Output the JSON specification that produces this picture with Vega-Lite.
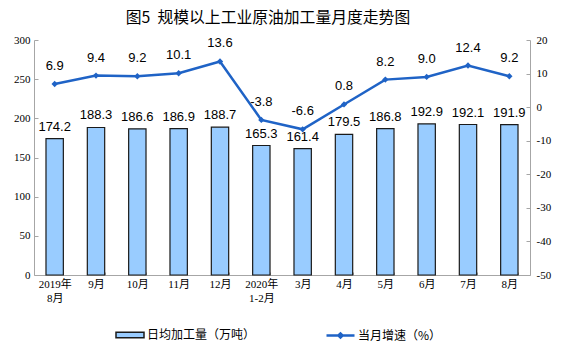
{
  "$schema": "https://vega.github.io/schema/vega-lite/v6.json",
  "autosize": {"type": "none"},
  "width": 496,
  "height": 235,
  "padding": {"left": 34, "top": 40, "right": 32, "bottom": 87},
  "title": {
    "text": "图5\u00a0\u00a0规模以上工业原油加工量月度走势图",
    "font": "Noto Sans CJK SC",
    "fontSize": 15.8,
    "fontWeight": "normal",
    "color": "#000000",
    "anchor": "middle",
    "dx": -14,
    "offset": 7
  },
  "config": {
    "view": {"stroke": null},
    "axis": {"grid": false},
    "locale": {"number": {"decimal": ".", "thousands": ",", "grouping": [3], "currency": ["", ""], "minus": "-"}}
  },
  "data": {
    "values": [
      {"m": "2019年 8月", "v": 174.2, "g": 6.9},
      {"m": "9月", "v": 188.3, "g": 9.4},
      {"m": "10月", "v": 186.6, "g": 9.2},
      {"m": "11月", "v": 186.9, "g": 10.1},
      {"m": "12月", "v": 188.7, "g": 13.6},
      {"m": "2020年 1-2月", "v": 165.3, "g": -3.8},
      {"m": "3月", "v": 161.4, "g": -6.6},
      {"m": "4月", "v": 179.5, "g": 0.8},
      {"m": "5月", "v": 186.8, "g": 8.2},
      {"m": "6月", "v": 192.9, "g": 9.0},
      {"m": "7月", "v": 192.1, "g": 12.4},
      {"m": "8月", "v": 191.9, "g": 9.2}
    ]
  },
  "encoding": {
    "x": {
      "field": "m",
      "type": "ordinal",
      "sort": null,
      "scale": {"paddingInner": 0.58, "paddingOuter": 0.29},
      "axis": {
        "title": null,
        "labelAngle": 0,
        "labelExpr": "isValid(datum.value) ? split(datum.value, ' ') : ''",
        "labelFont": "Liberation Serif, Noto Sans CJK SC",
        "labelFontSize": 11,
        "labelColor": "#000000",
        "labelPadding": 6,
        "labelLineHeight": 14,
        "labelOverlap": false,
        "tickBand": "extent",
        "tickSize": -3,
        "tickColor": "#a6a6a6",
        "domainColor": "#a6a6a6"
      }
    }
  },
  "layer": [
    {
      "encoding": {
        "y": {
          "field": "v",
          "type": "quantitative",
          "scale": {"domain": [0, 300], "nice": false},
          "axis": {
            "title": null,
            "values": [0, 50, 100, 150, 200, 250, 300],
            "labelOverlap": false,
            "labelFont": "Liberation Serif",
            "labelFontSize": 11,
            "labelColor": "#000000",
            "tickSize": -4,
            "labelPadding": 8,
            "tickColor": "#a6a6a6",
            "domainColor": "#a6a6a6"
          }
        }
      },
      "layer": [
        {
          "mark": {"type": "bar", "stroke": "#1a1a1a", "strokeWidth": 1.2},
          "encoding": {
            "fill": {
              "datum": "日均加工量（万吨）",
              "scale": {"range": ["#99ccff"]},
              "legend": {
                "title": null,
                "orient": "none",
                "legendX": 81,
                "legendY": 280,
                "symbolType": "M-1,-0.2H1V0.2H-1Z",
                "symbolSize": 784,
                "symbolStrokeColor": "#1a1a1a",
                "symbolStrokeWidth": 1.5,
                "labelFont": "Noto Sans CJK SC",
                "labelFontSize": 12,
                "labelColor": "#000000",
                "labelOffset": 2
              }
            }
          }
        },
        {
          "mark": {"type": "text", "baseline": "bottom", "dy": -5, "font": "Liberation Sans", "fontSize": 13, "color": "#000000"},
          "encoding": {
            "text": {"field": "v", "type": "quantitative", "format": ".1f"}
          }
        }
      ]
    },
    {
      "encoding": {
        "y": {
          "field": "g",
          "type": "quantitative",
          "scale": {"domain": [-50, 20], "nice": false},
          "axis": {
            "title": null,
            "orient": "right",
            "values": [-50, -40, -30, -20, -10, 0, 10, 20],
            "labelOverlap": false,
            "labelFont": "Liberation Serif",
            "labelFontSize": 11,
            "labelColor": "#000000",
            "tickSize": -4,
            "labelPadding": 10,
            "tickColor": "#a6a6a6",
            "domainColor": "#a6a6a6"
          }
        }
      },
      "layer": [
        {
          "mark": {"type": "line", "strokeWidth": 2.5},
          "encoding": {
            "stroke": {
              "datum": "当月增速（%）",
              "scale": {"range": ["#1f63c6"]},
              "legend": {
                "title": null,
                "orient": "none",
                "legendX": 291,
                "legendY": 280,
                "symbolType": "M-1,0H1M-0.15,0L0,-0.15L0.15,0L0,0.15Z",
                "symbolSize": 784,
                "symbolStrokeWidth": 2.5,
                "symbolFillColor": "#1f63c6",
                "labelFont": "Noto Sans CJK SC",
                "labelFontSize": 12,
                "labelColor": "#000000",
                "labelOffset": 2
              }
            }
          }
        },
        {
          "mark": {"type": "point", "shape": "diamond", "filled": true, "size": 40, "color": "#1f63c6", "opacity": 1}
        },
        {
          "mark": {"type": "text", "baseline": "bottom", "dy": -11, "font": "Liberation Sans", "fontSize": 13, "color": "#000000"},
          "encoding": {
            "text": {"field": "g", "type": "quantitative", "format": ".1f"}
          }
        }
      ]
    }
  ],
  "resolve": {"scale": {"y": "independent"}}
}
